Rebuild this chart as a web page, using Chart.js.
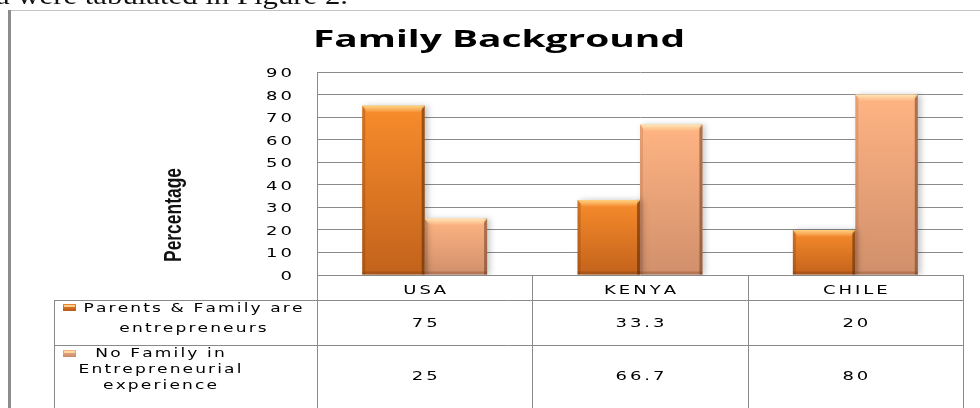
<!DOCTYPE html>
<html>
<head>
<meta charset="utf-8">
<title>Family Background</title>
<script src="https://cdn.jsdelivr.net/npm/chart.js@4.4.1/dist/chart.umd.min.js"></script>
<style>
  html, body { margin: 0; padding: 0; background: #fff; }
  #wrap { position: relative; width: 980px; height: 408px; }
</style>
</head>
<body>
<div id="wrap"><canvas id="familyChart" width="980" height="408"></canvas></div>
<script>
// Data
const countries = ['USA', 'KENYA', 'CHILE'];
const seriesNames = [
    ['Parents & Family are', 'entrepreneurs'],
    ['No Family in', 'Entrepreneurial', 'experience']
];
const familyEntrepreneurs = [75, 33.3, 20];
const noFamilyExperience = [25, 66.7, 80];
const yMin = 0, yMax = 90, yStep = 10;

const chartTitle = 'Family Background';
const yTitle = 'Percentage';
const captionText = 'a were tabulated in Figure 2.';

const LINE = '#8a8a8a';
const WIDE = '12px "DejaVu Sans"';

// draws text stretched horizontally, with optional spacing between letters
function stretchText(ctx, text, x, y, o) {
    ctx.save();
    ctx.font = o.font;
    ctx.fillStyle = o.color || '#000';
    ctx.textBaseline = 'alphabetic';
    ctx.textAlign = 'left';
    const sp = o.spacing || 0;
    const chars = Array.from(text);
    const widths = chars.map(function(ch) { return ctx.measureText(ch).width; });
    let w = sp ? widths.reduce(function(a, b) { return a + b; }, 0) + sp * (chars.length - 1)
               : ctx.measureText(text).width;
    const sx = o.width ? o.width / w : (o.scaleX || 1);
    ctx.translate(x, y);
    if (o.rotate) ctx.rotate(o.rotate);
    ctx.scale(sx, 1);
    let off = -w / 2;
    if (o.align === 'right') off = -w;
    if (o.align === 'left') off = 0;
    if (!sp) {
        ctx.fillText(text, off, 0);
    } else {
        chars.forEach(function(ch, i) {
            ctx.fillText(ch, off, 0);
            off += widths[i] + sp;
        });
    }
    ctx.restore();
}

function barFill(top, bottom) {
    return function(c) {
        const chart = c.chart;
        if (!chart.chartArea || c.type !== 'data') return top;
        const ys = chart.scales.y;
        const g = chart.ctx.createLinearGradient(0, ys.getPixelForValue(c.raw), 0, ys.getPixelForValue(0));
        g.addColorStop(0, top);
        g.addColorStop(1, bottom);
        return g;
    };
}

const bevelColors = [
    { hi: 'rgba(255,214,130,0.95)', side: 'rgba(120,55,10,0.3)', edge: 'rgba(95,45,10,0.6)' },
    { hi: 'rgba(255,236,190,0.95)', side: 'rgba(140,80,50,0.2)', edge: 'rgba(110,60,35,0.55)' }
];
const iconColors = [['#f08428', '#b85a18'], ['#f7b08a', '#c98a6a']];
const TXT = { font: WIDE, spacing: 2, scaleX: 1.5 };

const decorPlugin = {
    id: 'decor',
    beforeDraw(chart) {
        const ctx = chart.ctx;
        ctx.save();
        // page frame from the source document
        ctx.fillStyle = '#c4c4c4';
        ctx.fillRect(8, 10, 972, 1);
        ctx.fillStyle = '#8c8c8c';
        ctx.fillRect(8, 10, 3, 398);
        // caption line, mostly cut off at the top
        stretchText(ctx, captionText, 172, 4, { font: '26px "Liberation Serif"', width: 352, color: '#111' });
        ctx.restore();
    },
    beforeDatasetsDraw(chart) {
        const ctx = chart.ctx;
        ctx.save();
        ctx.shadowColor = 'rgba(0,0,0,0.22)';
        ctx.shadowBlur = 6;
        ctx.shadowOffsetX = 3;
    },
    afterDatasetsDraw(chart) {
        const ctx = chart.ctx;
        ctx.restore();
        ctx.save();
        chart.data.datasets.forEach(function(ds, di) {
            const bc = bevelColors[di];
            chart.getDatasetMeta(di).data.forEach(function(bar) {
                const L = bar.x - bar.width / 2, R = bar.x + bar.width / 2;
                const T = bar.y, B = bar.base, w = bar.width;
                ctx.fillStyle = bc.side;
                ctx.fillRect(L, T, 3, B - T);
                ctx.fillStyle = bc.edge;
                ctx.fillRect(R - 3, T, 3, B - T);
                const g = ctx.createLinearGradient(0, T, 0, T + 7);
                g.addColorStop(0, bc.hi);
                g.addColorStop(1, 'rgba(255,220,160,0)');
                ctx.fillStyle = g;
                ctx.beginPath();
                ctx.moveTo(L, T);
                ctx.lineTo(R, T);
                ctx.lineTo(R - 5, T + 7);
                ctx.lineTo(L + 5, T + 7);
                ctx.closePath();
                ctx.fill();
                ctx.fillStyle = 'rgba(90,40,10,0.25)';
                ctx.fillRect(L, B - 3, w, 3);
            });
        });
        ctx.restore();
    },
    afterDraw(chart) {
        const ctx = chart.ctx;
        const area = chart.chartArea;
        const xs = chart.scales.x, ys = chart.scales.y;
        ctx.save();

        // title
        stretchText(ctx, chartTitle, 499, 47, { font: 'bold 24px "Open Sans"', width: 372 });

        // y axis title
        stretchText(ctx, yTitle, 181, 215, { font: 'bold 24px "Liberation Sans"', width: 94, rotate: -Math.PI / 2, color: '#111' });

        // y tick labels
        ys.ticks.forEach(function(t) {
            stretchText(ctx, String(t.value), 292, ys.getPixelForValue(t.value) + 5,
                { font: WIDE, spacing: 2, scaleX: 1.5, align: 'right' });
        });

        // data table
        const n = countries.length;
        const bounds = [area.left];
        for (let i = 0; i < n - 1; i++) {
            bounds.push((xs.getPixelForValue(i) + xs.getPixelForValue(i + 1)) / 2);
        }
        bounds.push(area.right);
        const rowTop = [area.bottom, 300, 345];
        const tableBottom = 408, tableLeft = 54;

        ctx.strokeStyle = LINE;
        ctx.lineWidth = 1;
        ctx.beginPath();
        ctx.moveTo(tableLeft, rowTop[1] + 0.5); ctx.lineTo(area.right, rowTop[1] + 0.5);
        ctx.moveTo(tableLeft, rowTop[2] + 0.5); ctx.lineTo(area.right, rowTop[2] + 0.5);
        ctx.moveTo(tableLeft + 0.5, rowTop[1]); ctx.lineTo(tableLeft + 0.5, tableBottom);
        bounds.forEach(function(bx) {
            const px = Math.round(bx) + 0.5;
            ctx.moveTo(px, area.bottom); ctx.lineTo(px, tableBottom);
        });
        ctx.stroke();

        // header row
        countries.forEach(function(c, i) {
            stretchText(ctx, c, xs.getPixelForValue(i), 294, TXT);
        });

        // value rows
        const valueBase = [327, 380];
        [familyEntrepreneurs, noFamilyExperience].forEach(function(vals, r) {
            vals.forEach(function(v, i) {
                stretchText(ctx, String(v), xs.getPixelForValue(i), valueBase[r], TXT);
            });
        });

        // legend keys + series names
        const iconTop = [304, 350];
        const nameCenter = [193, 160];
        const nameBase = [[312, 332], [357, 373, 389]];
        seriesNames.forEach(function(lines, r) {
            const g = ctx.createLinearGradient(0, iconTop[r], 0, iconTop[r] + 7);
            g.addColorStop(0, iconColors[r][0]);
            g.addColorStop(1, iconColors[r][1]);
            ctx.fillStyle = g;
            ctx.fillRect(63, iconTop[r], 13, 7);
            ctx.fillStyle = 'rgba(255,230,170,0.8)';
            ctx.fillRect(64, iconTop[r] + 1, 11, 2);
            lines.forEach(function(line, k) {
                stretchText(ctx, line, nameCenter[r], nameBase[r][k], { font: WIDE, spacing: 1.5, scaleX: 1.42 });
            });
        });
        ctx.restore();
    }
};

new Chart(document.getElementById('familyChart'), {
    type: 'bar',
    data: {
        labels: countries,
        datasets: [{
            label: seriesNames[0].join(' '),
            data: familyEntrepreneurs,
            backgroundColor: barFill('#f88c2c', '#c2621b'),
            borderWidth: 0
        }, {
            label: seriesNames[1].join(' '),
            data: noFamilyExperience,
            backgroundColor: barFill('#ffb483', '#d08f6b'),
            borderWidth: 0
        }]
    },
    options: {
        responsive: false,
        animation: false,
        layout: { padding: { left: 317, right: 17, top: 72, bottom: 133 } },
        datasets: { bar: { categoryPercentage: 0.58, barPercentage: 1 } },
        scales: {
            x: { display: false },
            y: {
                min: yMin,
                max: yMax,
                ticks: { display: false, stepSize: yStep },
                grid: { color: LINE, lineWidth: 1, drawTicks: false },
                border: { display: true, color: LINE },
                afterFit: function(s) { s.width = 0; }
            }
        },
        plugins: {
            legend: { display: false },
            title: { display: false },
            tooltip: { enabled: false }
        }
    },
    plugins: [decorPlugin]
});
</script>
</body>
</html>
